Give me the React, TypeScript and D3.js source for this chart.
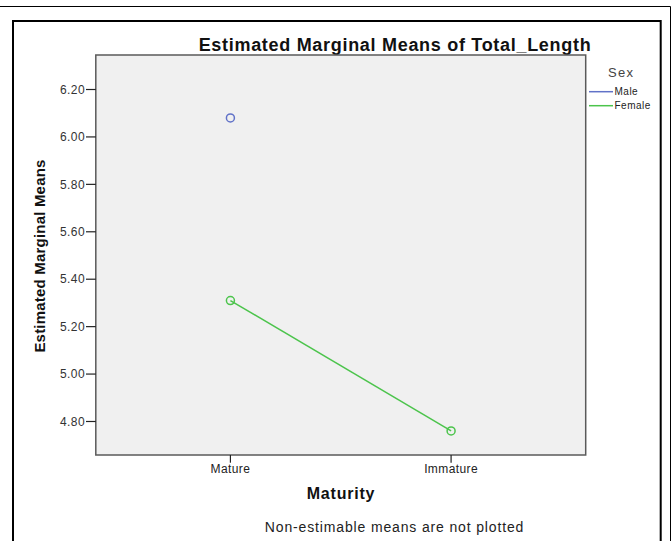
import React from "react";
import * as d3 from "d3";

const categories = ["Mature", "Immature"];
const maleValues: (number | null)[] = [6.08, null];
const femaleValues: (number | null)[] = [5.31, 4.76];
const yTicks = [4.8, 5.0, 5.2, 5.4, 5.6, 5.8, 6.0, 6.2];
const seriesNames = ["Male", "Female"];
const seriesColors = ["#6172c8", "#4cc44c"];

const W = 672;
const H = 541;
const PL = 95.8, PR = 585.7, PT = 55, PB = 455;
const FONT = "'Liberation Sans', Arial, sans-serif";

export default function App() {
  const x = d3.scalePoint<string>().domain(categories).range([PL, PR]).padding(0.61);
  const y = d3.scaleLinear().domain([4.6587, 6.3455]).range([PB, PT]);
  const series = [maleValues, femaleValues];
  const line = d3
    .line<number | null>()
    .defined((d) => d != null)
    .x((_, i) => x(categories[i]) as number)
    .y((d) => y(d as number));

  return (
    <svg
      width={W}
      height={H}
      style={{ position: "fixed", left: 0, top: 0, background: "#fff" }}
      fontFamily={FONT}
    >
      <rect x={0} y={0} width={W} height={H} fill="#fff" />
      {/* outer frames */}
      <path d={`M0,6.5 H670.5 V${H}`} fill="none" stroke="#000" strokeWidth={1} />
      <path d={`M13,${H} V21 H660.7 V${H}`} fill="none" stroke="#000" strokeWidth={2} />

      {/* title */}
      <text x={395} y={51} textAnchor="middle" fontSize={18} fontWeight="bold" letterSpacing={0.7} fill="#111">
        Estimated Marginal Means of Total_Length
      </text>

      {/* plot area */}
      <rect x={PL} y={PT} width={PR - PL} height={PB - PT} fill="#f0f0f0" stroke="#5a5a5a" strokeWidth={1.5} />

      {/* y axis */}
      {yTicks.map((t) => (
        <g key={t}>
          <line x1={86} x2={PL} y1={y(t)} y2={y(t)} stroke="#222" strokeWidth={1.2} />
          <text x={85} y={y(t)} dy="0.35em" textAnchor="end" fontSize={12} letterSpacing={0.4} fill="#333">
            {t.toFixed(2)}
          </text>
        </g>
      ))}
      <text
        transform={`translate(40,256) rotate(-90)`}
        textAnchor="middle"
        dy="0.35em"
        fontSize={15}
        fontWeight="bold"
        letterSpacing={0.2}
        fill="#111"
      >
        Estimated Marginal Means
      </text>

      {/* x axis */}
      {categories.map((c) => (
        <g key={c}>
          <line x1={x(c)} x2={x(c)} y1={PB} y2={462.7} stroke="#222" strokeWidth={1.2} />
          <text x={x(c)} y={473} textAnchor="middle" fontSize={12} letterSpacing={0.4} fill="#222">
            {c}
          </text>
        </g>
      ))}
      <text x={341} y={499} textAnchor="middle" fontSize={16} fontWeight="bold" letterSpacing={0.8} fill="#111">
        Maturity
      </text>

      {/* series */}
      {series.map((vals, si) => (
        <g key={si}>
          <path d={line(vals) || ""} fill="none" stroke={seriesColors[si]} strokeWidth={1.5} />
          {vals.map((v, i) =>
            v == null ? null : (
              <circle
                key={i}
                cx={x(categories[i])}
                cy={y(v)}
                r={4}
                fill="none"
                stroke={seriesColors[si]}
                strokeWidth={1.5}
              />
            )
          )}
        </g>
      ))}

      {/* legend */}
      <text x={608} y={77} fontSize={13} letterSpacing={1.3} fill="#444">
        Sex
      </text>
      {seriesNames.map((n, i) => (
        <g key={n}>
          <line x1={589} x2={613} y1={91.7 + i * 14} y2={91.7 + i * 14} stroke={seriesColors[i]} strokeWidth={1.5} />
          <text x={614.5} y={91.7 + i * 14} dy="0.35em" fontSize={10} letterSpacing={0.5} fill="#222">
            {n}
          </text>
        </g>
      ))}

      {/* footer */}
      <text x={394.5} y={532} textAnchor="middle" fontSize={14} letterSpacing={0.85} fill="#222">
        Non-estimable means are not plotted
      </text>
    </svg>
  );
}
